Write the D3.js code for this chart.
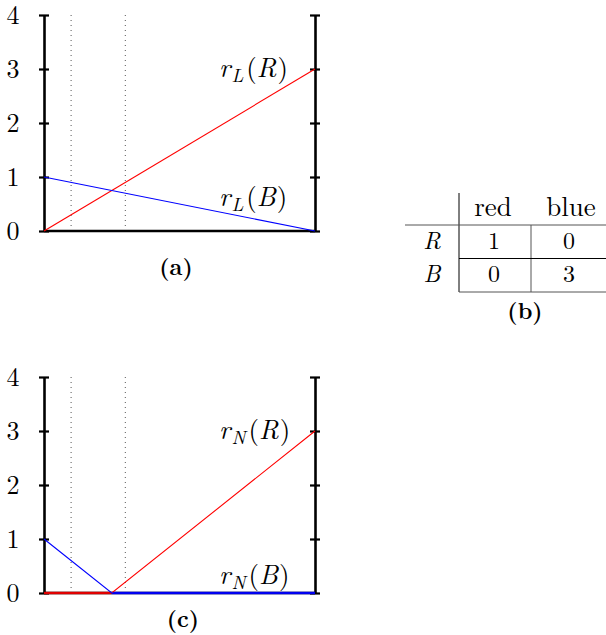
<!DOCTYPE html>
<html>
<head>
<meta charset="utf-8">
<script src="https://cdn.jsdelivr.net/npm/d3@7"></script>
<style>
  body { margin: 0; background: #fff; }
</style>
</head>
<body>
<div id="container"></div>
<script>
// values
var yTicks = [0, 1, 2, 3, 4];
var dotted = [0.1, 0.3];

// panel (a): linear rewards
var linR = [[0, 0], [1, 3]];
var linB = [[0, 1], [1, 0]];
// panel (c): nonlinear rewards
var nonR = [[0, 0], [0.25, 0], [1, 3]];
var nonB = [[0, 1], [0.25, 0], [1, 0]];

// panel (b): payoff table
var tableCols = ['red', 'blue'];
var tableRows = ['R', 'B'];
var tableVals = [[1, 0], [0, 3]];

var LM = '"Latin Modern Roman"';

var width = 606, height = 635;
var svg = d3.select('#container').append('svg')
  .attr('width', width).attr('height', height);

var x = d3.scaleLinear().domain([0, 1]).range([44, 315]);

function panel(top, red, blue, sub, labRy, labBy, caption, capX, capY, baseColored) {
  var y = d3.scaleLinear().domain([0, 4]).range([top + 216, top]);
  var g = svg.append('g');

  // dotted guides
  g.selectAll('line.dot')
    .data(dotted)
    .enter().append('line')
    .attr('x1', function(d) { return x(d); })
    .attr('x2', function(d) { return x(d); })
    .attr('y1', y(0)).attr('y2', y(4))
    .attr('stroke', '#555')
    .attr('stroke-width', 1)
    .attr('stroke-dasharray', '1,4');

  // axes
  var left = g.append('g')
    .attr('transform', 'translate(' + x(0) + ',0)')
    .call(d3.axisLeft(y).tickValues(yTicks).tickFormat(d3.format('d')).tickSizeOuter(0));
  var right = g.append('g')
    .attr('transform', 'translate(' + x(1) + ',0)')
    .call(d3.axisRight(y).tickValues(yTicks).tickFormat('').tickSizeOuter(0));

  [left, right].forEach(function(a) {
    a.select('.domain').attr('stroke', '#000').attr('stroke-width', 2.6);
    a.selectAll('.tick line').attr('x1', -5).attr('x2', 5)
      .attr('stroke', '#000').attr('stroke-width', 2.2);
  });
  left.selectAll('.tick text')
    .attr('x', -31).attr('dy', '0.33em')
    .attr('text-anchor', 'middle')
    .style('font-family', LM)
    .style('font-size', '26px');

  g.append('line')
    .attr('x1', x(0)).attr('x2', x(1))
    .attr('y1', y(0)).attr('y2', y(0))
    .attr('stroke', '#000').attr('stroke-width', 2.6);

  var line = d3.line()
    .x(function(d) { return x(d[0]); })
    .y(function(d) { return y(d[1]); });

  if (baseColored) {
    // flat parts of the curves sit on the baseline, drawn thicker
    [[red, '#c00000'], [blue, '#0000e0']].forEach(function(s) {
      var flat = [];
      for (var i = 1; i < s[0].length; i++) {
        if (s[0][i - 1][1] === 0 && s[0][i][1] === 0) flat.push([s[0][i - 1], s[0][i]]);
      }
      g.selectAll(null).data(flat).enter().append('path')
        .attr('d', line)
        .attr('fill', 'none')
        .attr('stroke', s[1])
        .attr('stroke-width', 2.6);
    });
  }

  g.append('path').datum(red).attr('d', line)
    .attr('fill', 'none').attr('stroke', '#ff0000').attr('stroke-width', 1.1);
  g.append('path').datum(blue).attr('d', line)
    .attr('fill', 'none').attr('stroke', '#0000ff').attr('stroke-width', 1.1);

  function label(yy, who) {
    var t = g.append('text').attr('x', 219).attr('y', yy)
      .style('font-family', LM).style('font-size', '27px');
    t.append('tspan').attr('font-style', 'italic').text('r');
    t.append('tspan').attr('font-style', 'italic').style('font-size', '19px')
      .attr('dy', 5).attr('dx', 1).text(sub);
    t.append('tspan').attr('dy', -5).attr('dx', 3).text('(');
    t.append('tspan').attr('font-style', 'italic').text(who);
    t.append('tspan').attr('dx', 1).text(')');
  }
  label(labRy, 'R');
  label(labBy, 'B');

  g.append('text')
    .attr('x', capX).attr('y', capY)
    .attr('text-anchor', 'middle')
    .style('font-family', LM)
    .style('font-size', '23px').style('font-weight', 'bold')
    .text(caption);
}

panel(15, linR, linB, 'L', 77, 206, '(a)', 176, 275, false);
panel(377, nonR, nonB, 'N', 439, 584, '(c)', 183, 627, true);

// table (b)
var tx = d3.scaleBand().domain(tableCols).range([459, 603]);
var ty = d3.scaleBand().domain(tableRows).range([225, 292]);
var tg = svg.append('g');

tg.append('line').attr('x1', 459).attr('x2', 459).attr('y1', 193).attr('y2', ty.range()[1])
  .attr('stroke', '#000').attr('stroke-width', 1);
tg.append('line').attr('x1', tx('blue')).attr('x2', tx('blue'))
  .attr('y1', ty.range()[0]).attr('y2', ty.range()[1])
  .attr('stroke', '#555').attr('stroke-width', 1);
tg.append('line').attr('x1', 405).attr('x2', 606).attr('y1', ty('R')).attr('y2', ty('R'))
  .attr('stroke', '#555').attr('stroke-width', 1);
tg.append('line').attr('x1', 459).attr('x2', 606).attr('y1', ty('B')).attr('y2', ty('B'))
  .attr('stroke', '#000').attr('stroke-width', 1);
tg.append('line').attr('x1', 459).attr('x2', 606).attr('y1', ty.range()[1]).attr('y2', ty.range()[1])
  .attr('stroke', '#555').attr('stroke-width', 1);

tg.selectAll('text.col').data(tableCols).enter().append('text')
  .attr('x', function(d, i) { return tx(d) + tx.bandwidth() / 2 + (i ? 4 : -2); })
  .attr('y', 216)
  .attr('text-anchor', 'middle')
  .style('font-family', LM)
  .style('font-size', '27px')
  .text(function(d) { return d; });

tg.selectAll('text.row').data(tableRows).enter().append('text')
  .attr('x', 432)
  .attr('y', function(d) { return ty(d) + ty.bandwidth() / 2 + 7; })
  .attr('text-anchor', 'middle')
  .attr('font-style', 'italic')
  .style('font-family', LM)
  .style('font-size', '24px')
  .text(function(d) { return d; });

tableRows.forEach(function(r, i) {
  tg.selectAll(null).data(tableVals[i]).enter().append('text')
    .attr('x', function(d, j) { return tx(tableCols[j]) + tx.bandwidth() / 2 + (j ? 2 : -1); })
    .attr('y', ty(r) + ty.bandwidth() / 2 + 7)
    .attr('text-anchor', 'middle')
    .style('font-family', LM)
    .style('font-size', '24px')
    .text(function(d) { return d; });
});

tg.append('text')
  .attr('x', 525).attr('y', 319)
  .attr('text-anchor', 'middle')
  .style('font-family', LM)
  .style('font-size', '23px').style('font-weight', 'bold')
  .text('(b)');
</script>
</body>
</html>
